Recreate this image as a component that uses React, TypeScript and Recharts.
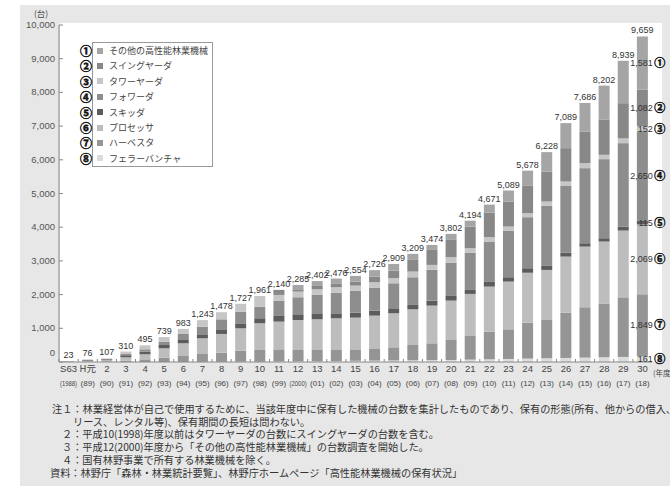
import { BarChart, Bar, XAxis, YAxis, LabelList } from 'recharts'

// 年度ラベル（和暦・西暦）
const years = ['S63', 'H元', '2', '3', '4', '5', '6', '7', '8', '9', '10', '11', '12', '13', '14', '15', '16', '17', '18', '19', '20', '21', '22', '23', '24', '25', '26', '27', '28', '29', '30']
const westernYears = ['(1988)', '(89)', '(90)', '(91)', '(92)', '(93)', '(94)', '(95)', '(96)', '(97)', '(98)', '(99)', '(2000)', '(01)', '(02)', '(03)', '(04)', '(05)', '(06)', '(07)', '(08)', '(09)', '(10)', '(11)', '(12)', '(13)', '(14)', '(15)', '(16)', '(17)', '(18)']
const totals = [23, 76, 107, 310, 495, 739, 983, 1243, 1478, 1727, 1961, 2140, 2285, 2402, 2476, 2554, 2726, 2909, 3209, 3474, 3802, 4194, 4671, 5089, 5678, 6228, 7089, 7686, 8202, 8939, 9659]

// 機種別台数（下から積み上げ）
const fellerBuncher = [0, 0, 0, 0, 0, 0, 0, 3, 5, 8, 10, 15, 20, 25, 30, 35, 40, 45, 50, 55, 60, 70, 80, 90, 100, 110, 120, 130, 140, 150, 161]
const harvester = [2, 10, 15, 40, 79, 129, 178, 235, 272, 329, 346, 361, 336, 331, 326, 321, 346, 391, 455, 499, 593, 702, 821, 880, 1068, 1137, 1345, 1494, 1583, 1770, 1849]
const processor = [10, 30, 40, 100, 149, 277, 376, 465, 555, 663, 792, 822, 891, 911, 941, 961, 990, 1009, 1059, 1119, 1169, 1248, 1336, 1416, 1480, 1485, 1663, 1801, 1851, 1980, 2069]
const skidder = [8, 20, 25, 60, 79, 99, 99, 99, 118, 129, 149, 168, 169, 178, 148, 148, 149, 149, 129, 149, 138, 118, 139, 129, 134, 119, 119, 99, 99, 120, 115]
const forwarder = [0, 6, 10, 40, 69, 99, 179, 247, 317, 366, 346, 456, 505, 545, 614, 644, 683, 742, 822, 910, 990, 1109, 1198, 1385, 1515, 1782, 1990, 2228, 2346, 2474, 2650]
const towerYarder = [3, 10, 17, 70, 119, 135, 151, 194, 211, 232, 318, 168, 168, 168, 159, 158, 158, 149, 168, 149, 159, 129, 129, 119, 118, 129, 119, 148, 129, 140, 152]
const swingYarder = [0, 0, 0, 0, 0, 0, 0, 0, 0, 0, 0, 150, 69, 99, 99, 119, 168, 228, 346, 445, 514, 643, 732, 743, 812, 891, 990, 941, 1039, 1046, 1082]
const others = [0, 0, 0, 0, 0, 0, 0, 0, 0, 0, 0, 0, 127, 145, 159, 168, 192, 196, 180, 148, 179, 175, 236, 327, 451, 575, 743, 845, 1015, 1259, 1581]

const yTicks = [0, 1000, 2000, 3000, 4000, 5000, 6000, 7000, 8000, 9000, 10000]

const series = [
  { key: 'feller', mark: '⑧', name: 'フェラーバンチャ', color: '#dcdcdc', values: fellerBuncher },
  { key: 'harvester', mark: '⑦', name: 'ハーベスタ', color: '#959595', values: harvester },
  { key: 'processor', mark: '⑥', name: 'プロセッサ', color: '#bdbdbd', values: processor },
  { key: 'skidder', mark: '⑤', name: 'スキッダ', color: '#5c5c5c', values: skidder },
  { key: 'forwarder', mark: '④', name: 'フォワーダ', color: '#8d8d8d', values: forwarder },
  { key: 'tower', mark: '③', name: 'タワーヤーダ', color: '#c6c6c6', values: towerYarder },
  { key: 'swing', mark: '②', name: 'スイングヤーダ', color: '#888888', values: swingYarder },
  { key: 'other', mark: '①', name: 'その他の高性能林業機械', color: '#a5a5a5', values: others },
]

const notes = [
  { left: 52, text: '注１：林業経営体が自己で使用するために、当該年度中に保有した機械の台数を集計したものであり、保有の形態(所有、他からの借入、' },
  { left: 73, text: 'リース、レンタル等)、保有期間の長短は問わない。' },
  { left: 62, text: '２：平成10(1998)年度以前はタワーヤーダの台数にスイングヤーダの台数を含む。' },
  { left: 62, text: '３：平成12(2000)年度から「その他の高性能林業機械」の台数調査を開始した。' },
  { left: 62, text: '４：国有林野事業で所有する林業機械を除く。' },
  { left: 50, text: '資料：林野庁「森林・林業統計要覧」、林野庁ホームページ「高性能林業機械の保有状況」' },
]

const lastYear = years[years.length - 1]

const data = years.map((y, i) => {
  const row: Record<string, any> = { year: y, total: totals[i] }
  series.forEach((s) => { row[s.key] = s.values[i] })
  // 積み上げの最上段（値>0）の系列
  row.topKey = [...series].reverse().find((s) => s.values[i] > 0)?.key
  return row
})

const JP = "'Noto Sans CJK JP', 'Noto Sans', sans-serif"
const NUM = "'Liberation Sans Narrow', 'Liberation Sans', Arial, sans-serif"
const fmt = (v: number) => v.toLocaleString('en-US')

const XTick = (props: any) => {
  const { x, y, payload } = props
  const i = payload.index
  const w = westernYears[i]
  const long = w.length > 4
  return (
    <g>
      <text x={x} y={y + 10} textAnchor="middle" fontSize={9.5} fill="#444" fontFamily={i === 1 ? JP : 'Liberation Sans, Arial, sans-serif'}>{payload.value}</text>
      <text x={x} y={y + 24} textAnchor="middle" fontSize={long ? 7.5 : 8} fill="#444" fontFamily="Liberation Sans, Arial, sans-serif"
        {...(long ? { textLength: 17, lengthAdjust: 'spacingAndGlyphs' } : {})}>{w}</text>
      <line x1={x - 9.56} x2={x - 9.56} y1={y} y2={y - 3} stroke="#888" />
    </g>
  )
}

const YTick = (props: any) => {
  const { x, y, payload } = props
  return (
    <g>
      <text x={x} y={y} dy={payload.value === 0 ? -6 : 3} textAnchor="end" fontSize={9.5} fill="#555" fontFamily="Liberation Sans, Arial, sans-serif">{fmt(payload.value)}</text>
      <line x1={x + 4} x2={x + 8} y1={y} y2={y} stroke="#888" />
    </g>
  )
}

const TotalLabel = (props: any) => {
  const { x, y, width, value } = props
  if (value == null) return null
  return (
    <text x={Number(x) + Number(width) / 2} y={Number(y) - 3} textAnchor="middle" fontSize={9} fill="#333" fontFamily={NUM}>{fmt(value)}</text>
  )
}

const endLabel = (mark: string) => (props: any) => {
  const { x, y, width, height, value } = props
  if (value == null) return null
  const cy = Number(y) + Number(height) / 2
  const right = Number(x) + Number(width) + 5
  return (
    <g>
      <text x={right} y={cy} dy={3} textAnchor="end" fontSize={9} fill="#333" fontFamily={NUM}>{fmt(value)}</text>
      <text x={right + 7} y={cy} dy={4} textAnchor="middle" fontSize={11} fontWeight={700} fill="#111" stroke="#111" strokeWidth={0.5} fontFamily={JP}>{mark}</text>
    </g>
  )
}

export default function App() {
  return (
    <div style={{ position: 'absolute', left: 0, top: 0, width: 670, height: 486, background: '#fff', overflow: 'hidden' }}>
      <div style={{ position: 'absolute', left: 20, top: 5, width: 650, height: 481, background: '#e7e7e7' }} />
      <div style={{ position: 'absolute', left: 60, top: 23, width: 602, height: 339, background: '#fff' }} />
      <div style={{ position: 'absolute', left: 0, top: 0 }}>
        <BarChart width={670} height={400} data={data} margin={{ top: 25, right: 18, left: 9, bottom: 8 }} barSize={11}>
          <XAxis dataKey="year" height={30} interval={0} tickSize={0} tickMargin={0} tickLine={false} axisLine={{ stroke: '#888' }} tick={<XTick />} />
          <YAxis domain={[0, 10000]} ticks={yTicks} width={50} tickSize={0} tickMargin={4} tickLine={false} axisLine={{ stroke: '#888' }} tick={<YTick />} />
          {series.map((s) => (
            <Bar key={s.key} dataKey={s.key} stackId="a" fill={s.color} isAnimationActive={false}>
              <LabelList dataKey={(d: any) => (d.year === lastYear ? d[s.key] : null)} content={endLabel(s.mark)} />
              <LabelList dataKey={(d: any) => (d.topKey === s.key ? d.total : null)} content={TotalLabel} />
            </Bar>
          ))}
          <text x={41} y={17} textAnchor="middle" fontSize={8.5} fill="#444" fontFamily={JP}>(台)</text>
          <text x={653} y={376} fontSize={7.5} fill="#444" fontFamily={JP}>(年度)</text>
        </BarChart>
      </div>
      <div style={{ position: 'absolute', left: 92, top: 42, width: 119, height: 123, border: '1px solid #999', background: '#fff' }} />
      {[...series].reverse().map((s, i) => (
        <div key={s.key} style={{ position: 'absolute', left: 79, top: 43 + i * 15.4, height: 15, display: 'flex', alignItems: 'center', fontFamily: JP, whiteSpace: 'nowrap' }}>
          <span style={{ width: 14, fontSize: 12, fontWeight: 700, color: '#111', textAlign: 'center', WebkitTextStroke: '0.5px #111' }}>{s.mark}</span>
          <span style={{ width: 6, height: 6, background: s.color, marginLeft: 4, marginRight: 6 }} />
          <span style={{ fontSize: 9, color: '#444' }}>{s.name}</span>
        </div>
      ))}
      {notes.map((n, i) => (
        <div key={i} style={{ position: 'absolute', left: n.left, top: 403 + i * 12.7, fontSize: 10.2, lineHeight: '11.5px', color: '#333', fontFamily: JP, whiteSpace: 'nowrap' }}>{n.text}</div>
      ))}
    </div>
  )
}
